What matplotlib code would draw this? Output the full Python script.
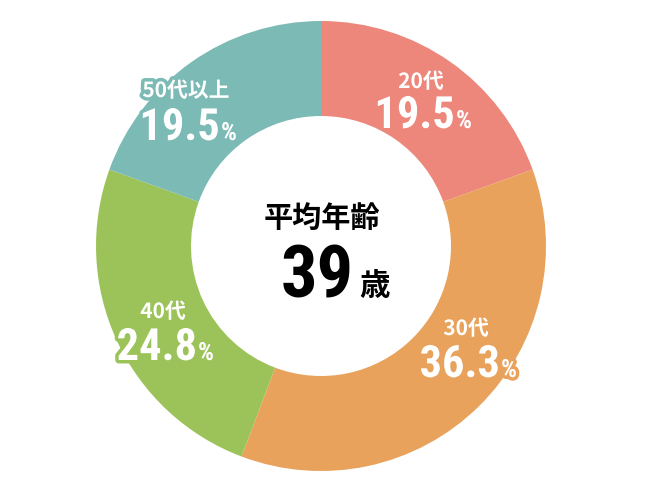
import matplotlib.pyplot as plt
import matplotlib.patheffects as pe
from matplotlib import font_manager

# data
labels = ["20代", "30代", "40代", "50代以上"]
shares = [19.5, 36.3, 24.8, 19.5]
share_text = ["19.5", "36.3", "24.8", "19.5"]
colors = ["#ED877B", "#E8A25C", "#9CC35A", "#7CBAB5"]
center_title = "平均年齢"
avg_age = "39"
age_unit = "歳"

# label anchors in pixel coords (x of number end, y baseline of name, y baseline of number)
anchors = [(455, 88, 128), (500, 335, 377), (197, 318, 360), (220, 97, 140)]

installed = {f.name for f in font_manager.fontManager.ttflist}
num_family = "Liberation Sans"
num_scale = 0.86
for cand in ["Roboto Condensed", "Liberation Sans Narrow", "Open Sans Condensed", "Arial Narrow"]:
    if cand in installed:
        num_family, num_scale = cand, 1.0
        break
num_font = [num_family, "DejaVu Sans"]
jp_font = ["Noto Sans CJK JP", "DejaVu Sans"]

fig = plt.figure(figsize=(6.5, 5), dpi=100)
ax = fig.add_axes([0, 0, 1, 1])

cx, cy = 321, 500 - 246
r_out, r_in = 225, 130
ax.pie(shares, colors=colors, startangle=90, counterclock=False,
       radius=r_out, center=(cx, cy),
       wedgeprops=dict(width=r_out - r_in, edgecolor="none"))
ax.set_xlim(0, 650)
ax.set_ylim(0, 500)
ax.set_aspect("equal")
ax.axis("off")

for lab, txt, col, (xe, yn, yv) in zip(labels, share_text, colors, anchors):
    stroke = [pe.withStroke(linewidth=5, foreground=col)]
    ax.text(xe - 34, 500 - yn, lab, ha="center", va="baseline", color="white",
            fontsize=15, fontweight="bold", family=jp_font, path_effects=stroke)
    ax.text(xe, 500 - yv, txt, ha="right", va="baseline", color="white",
            fontsize=32 * num_scale, fontweight="bold", family=num_font, path_effects=stroke)
    ax.text(xe + 1, 500 - yv, "%", ha="left", va="baseline", color="white",
            fontsize=18 * num_scale, fontweight="bold", family=num_font, path_effects=stroke)

ax.text(322, 500 - 227, center_title, ha="center", va="baseline", color="black",
        fontsize=21, fontweight="bold", family=jp_font)
ax.text(354, 500 - 297, avg_age, ha="right", va="baseline", color="black",
        fontsize=52 * num_scale, fontweight="bold", family=num_font)
ax.text(359, 500 - 295, age_unit, ha="left", va="baseline", color="black",
        fontsize=22, fontweight="bold", family=jp_font)

fig.savefig("out.png", dpi=100)
